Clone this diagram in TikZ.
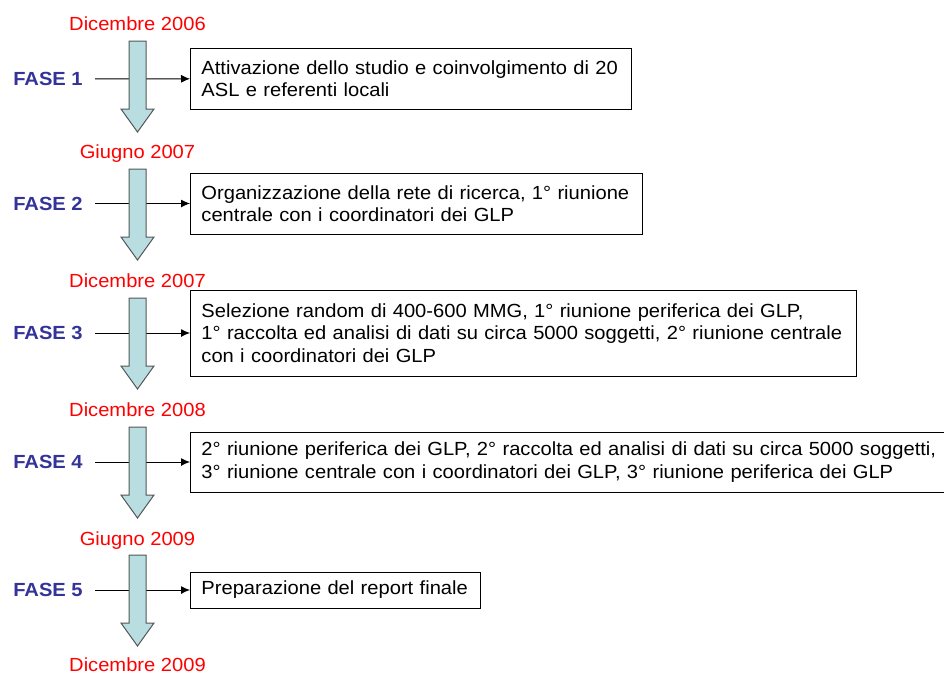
\documentclass[tikz,border=0pt]{standalone}
\usepackage{fontspec}
\setmainfont{Liberation Sans}[FakeStretch=1.06]
\usetikzlibrary{arrows.meta}

\definecolor{faseblu}{RGB}{51,51,153}
\definecolor{celeste}{RGB}{185,222,226}
\definecolor{grigiobordo}{RGB}{85,85,85}

\tikzset{
  freccia fase/.pic={
    \draw[fill=celeste,draw=grigiobordo,line width=1pt]
      (-8.5,0) -- (8.5,0) -- (8.5,68) -- (16.5,68) -- (0,91) -- (-16.5,68) -- (-8.5,68) -- cycle;
  }
}

\begin{document}
\begin{tikzpicture}[x=1pt,y=-1pt,line width=0.9pt,>={Latex[length=9pt,width=8pt]},
  font=\fontsize{19}{22.4}\selectfont,
  data/.style={text=red,anchor=base},
  fase/.style={text=faseblu,font=\fontsize{19}{22.4}\selectfont\bfseries,inner xsep=12pt},
  attivita/.style={draw,anchor=west,align=left,inner xsep=11pt,inner ysep=0pt}]
  \useasboundingbox (0,0) rectangle (944,675);
  \clip (0,0) rectangle (944,675);
  % date
  \node[data] (d0) at (137.5,30) {Dicembre 2006};
  \node[data] (d1) at (137.5,158) {Giugno 2007};
  \node[data] (d2) at (137.5,287) {Dicembre 2007};
  \node[data] (d3) at (137.5,416) {Dicembre 2008};
  \node[data] (d4) at (137.5,545) {Giugno 2009};
  \node[data] (d5) at (137.5,671) {Dicembre 2009};
  % fasi
  \node[fase] (f1) at (48,79) {FASE 1};
  \node[fase] (f2) at (48,203.5) {FASE 2};
  \node[fase] (f3) at (48,333) {FASE 3};
  \node[fase] (f4) at (48,462) {FASE 4};
  \node[fase] (f5) at (48,590) {FASE 5};
  % attivita
  \node[attivita,text width=419pt,minimum height=61pt] (b1) at (190,78.5)
    {Attivazione dello studio e coinvolgimento di 20\\ASL e referenti locali};
  \node[attivita,text width=430pt,minimum height=61pt] (b2) at (190,203.5)
    {Organizzazione della rete di ricerca, 1° riunione\\centrale con i coordinatori dei GLP};
  \node[attivita,text width=644pt,minimum height=86pt] (b3) at (190,333)
    {Selezione random di 400-600 MMG, 1° riunione periferica dei GLP,\\1° raccolta ed analisi di dati su circa 5000 soggetti, 2° riunione centrale\\con i coordinatori dei GLP};
  \node[attivita,text width=760pt,minimum height=60pt] (b4) at (190,462)
    {2° riunione periferica dei GLP, 2° raccolta ed analisi di dati su circa 5000 soggetti,\\3° riunione centrale con i coordinatori dei GLP, 3° riunione periferica dei GLP};
  \node[attivita,text width=268pt,minimum height=36pt] (b5) at (190,590)
    {Preparazione del report finale};
  % collegamenti fase -> attivita
  \draw[->] (f1) -- (b1);
  \draw[->] (f2) -- (b2);
  \draw[->] (f3) -- (b3);
  \draw[->] (f4) -- (b4);
  \draw[->] (f5) -- (b5);
  % frecce del tempo
  \pic at (137.5,41) {freccia fase};
  \pic at (137.5,169) {freccia fase};
  \pic at (137.5,298) {freccia fase};
  \pic at (137.5,427) {freccia fase};
  \pic at (137.5,555) {freccia fase};
\end{tikzpicture}
\end{document}
